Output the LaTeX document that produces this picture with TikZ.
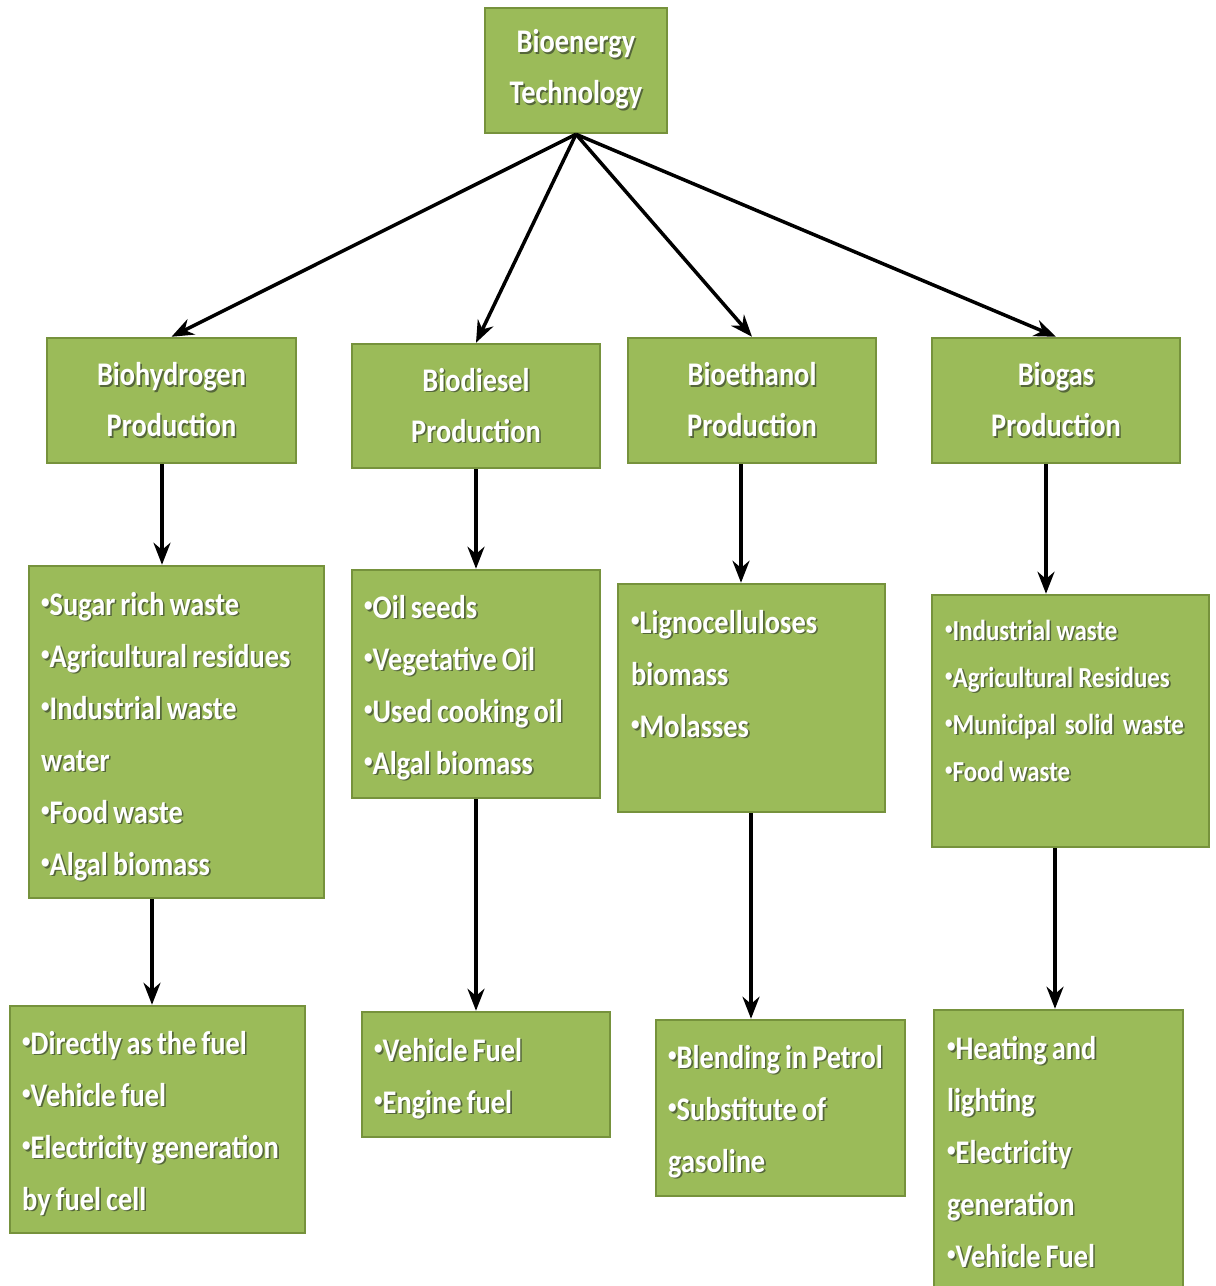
\documentclass[tikz,border=0pt]{standalone}
\usepackage{fontspec}
\setmainfont{Carlito}[FakeStretch=0.86]
\usetikzlibrary{arrows.meta}
\definecolor{boxfill}{HTML}{9BBB59}
\definecolor{boxline}{HTML}{76923C}
\definecolor{shadowc}{HTML}{55663A}
\newcommand\sh[1]{\leavevmode\rlap{\kern1.6pt\raisebox{-1.6pt}{\textcolor{shadowc}{#1}}}#1}
\newcommand\tsp[1]{\leavevmode{\spaceskip=5pt\relax\sh{#1}}}
\newcommand\bl{\raisebox{0.2em}{\scalebox{0.6}{•}}}
\tikzset{
  box/.style={draw=boxline, fill=boxfill, line width=2.5pt, inner sep=0pt},
  ttl/.style={box, text=white, font=\fontsize{33}{51}\selectfont\bfseries, align=center},
  lst/.style={text=white, font=\fontsize{33}{52}\selectfont\bfseries, text width=400pt, align=left, inner sep=0pt, anchor=base west},
  lsts/.style={lst, font=\fontsize{29}{47}\selectfont\bfseries},
  arr/.style={line width=3.5pt, -{Stealth[length=22pt,width=17pt]}},
}
\begin{document}
\begin{tikzpicture}[x=1pt,y=-1pt]
\useasboundingbox (0,0) rectangle (1216,1286);
\clip (0,0) rectangle (1216,1286);
% top
\node[ttl, minimum width=182pt, minimum height=125pt] (top) at (576,70.5) {\sh{Bioenergy}\\\sh{Technology}};
% row 1
\node[ttl, minimum width=249pt, minimum height=125pt] (h1) at (171.5,400.5) {\sh{Biohydrogen}\\\sh{Production}};
\node[ttl, minimum width=248pt, minimum height=124pt] (d1) at (476,406) {\sh{Biodiesel}\\\sh{Production}};
\node[ttl, minimum width=248pt, minimum height=125pt] (e1) at (752,400.5) {\sh{Bioethanol}\\\sh{Production}};
\node[ttl, minimum width=248pt, minimum height=125pt] (g1) at (1056,400.5) {\sh{Biogas}\\\sh{Production}};
% row 2
\node[box, minimum width=295pt, minimum height=332pt] (h2) at (176.5,732) {};
\node[lst] (h2t) at (41,615) {\tsp{\bl Sugar rich waste}\\\tsp{\bl Agricultural residues}\\\tsp{\bl Industrial waste}\\\tsp{water}\\\tsp{\bl Food waste}\\\tsp{\bl Algal biomass}};
\node[box, minimum width=248pt, minimum height=228pt] (d2) at (476,684) {};
\node[lst] (d2t) at (364,618) {\tsp{\bl Oil seeds}\\\tsp{\bl Vegetative Oil}\\\tsp{\bl Used cooking oil}\\\tsp{\bl Algal biomass}};
\node[box, minimum width=267pt, minimum height=228pt] (e2) at (751.5,698) {};
\node[lst] (e2t) at (631,633) {\tsp{\bl Lignocelluloses}\\\tsp{biomass}\\\tsp{\bl Molasses}};
\node[box, minimum width=277pt, minimum height=252pt] (g2) at (1070.5,721) {};
\node[lsts] (g2t) at (945,640) {\tsp{\bl Industrial waste}\\\tsp{\bl Agricultural Residues}\\\tsp{\bl Municipal\hspace{9pt}solid\hspace{9pt}waste}\\\tsp{\bl Food waste}};
% row 3
\node[box, minimum width=295pt, minimum height=227pt] (h3) at (157.5,1119.5) {};
\node[lst] (h3t) at (22,1054) {\tsp{\bl Directly as the fuel}\\\tsp{\bl Vehicle fuel}\\\tsp{\bl Electricity generation}\\\tsp{by fuel cell}};
\node[box, minimum width=248pt, minimum height=125pt] (d3) at (486,1074.5) {};
\node[lst] (d3t) at (374,1061) {\tsp{\bl Vehicle Fuel}\\\tsp{\bl Engine fuel}};
\node[box, minimum width=249pt, minimum height=176pt] (e3) at (780.5,1108) {};
\node[lst] (e3t) at (668,1068) {\tsp{\bl Blending in Petrol}\\\tsp{\bl Substitute of}\\\tsp{gasoline}};
\node[box, minimum width=249pt, minimum height=280pt] (g3) at (1058.5,1150) {};
\node[lst] (g3t) at (947,1059) {\tsp{\bl Heating and}\\\tsp{lighting}\\\tsp{\bl Electricity}\\\tsp{generation}\\\tsp{\bl Vehicle Fuel}};
% arrows from top
\draw[arr] (top.south) -- (h1.north);
\draw[arr] (top.south) -- (d1.north);
\draw[arr] (top.south) -- (e1.north);
\draw[arr] (top.south) -- (g1.north);
% vertical arrows
\coordinate (xa) at (162,0);
\coordinate (xb) at (476,0);
\coordinate (xc) at (741,0);
\coordinate (xd) at (1046,0);
\coordinate (xe) at (152,0);
\coordinate (xf) at (751,0);
\coordinate (xg) at (1055,0);
\draw[arr] (h1.south -| xa) -- (h2.north -| xa);
\draw[arr] (d1.south -| xb) -- (d2.north -| xb);
\draw[arr] (e1.south -| xc) -- (e2.north -| xc);
\draw[arr] (g1.south -| xd) -- (g2.north -| xd);
\draw[arr] (h2.south -| xe) -- (h3.north -| xe);
\draw[arr] (d2.south -| xb) -- (d3.north -| xb);
\draw[arr] (e2.south -| xf) -- (e3.north -| xf);
\draw[arr] (g2.south -| xg) -- (g3.north -| xg);
\end{tikzpicture}
\end{document}
